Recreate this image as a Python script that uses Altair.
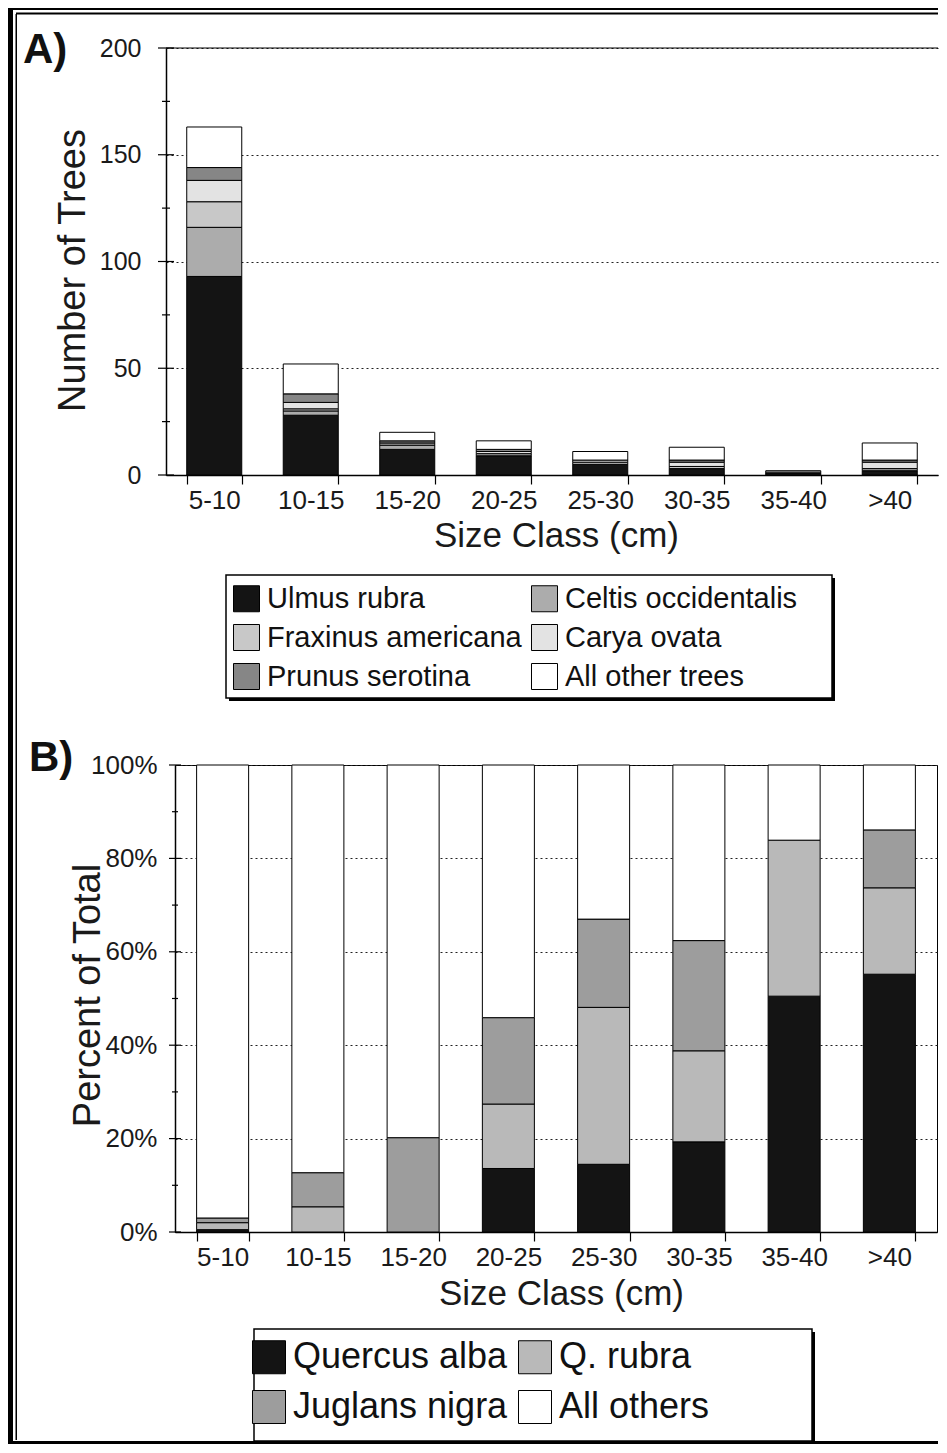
import altair as alt
import pandas as pd

FONT = "Liberation Sans"

# ---------------- data ----------------
size_classes = ["5-10", "10-15", "15-20", "20-25", "25-30", "30-35", "35-40", ">40"]

species_a = ["Ulmus rubra", "Celtis occidentalis", "Fraxinus americana",
             "Carya ovata", "Prunus serotina", "All other trees"]
ulmus = [93, 28, 12, 9, 5, 3, 1, 2]
celtis = [23, 2, 2, 1, 0, 0, 0, 1]
fraxinus = [12, 1, 1, 0, 1, 1, 0, 0]
carya = [10, 3, 0, 1, 1, 2, 0, 3]
prunus = [6, 4, 1, 1, 0, 1, 1, 1]
other_trees = [19, 14, 4, 4, 4, 6, 0, 8]
colors_a = ["#141414", "#acacac", "#c8c8c8", "#e3e3e3", "#868686", "#ffffff"]

species_b = ["Quercus alba", "Q. rubra", "Juglans nigra", "All others"]
quercus = [0.5, 0.0, 0.0, 13.6, 14.5, 19.3, 50.5, 55.2]
rubra = [1.5, 5.4, 0.0, 13.8, 33.6, 19.5, 33.4, 18.5]
juglans = [1.0, 7.3, 20.2, 18.5, 18.9, 23.6, 0.0, 12.4]
all_others = [97.0, 87.3, 79.8, 54.1, 33.0, 37.6, 16.1, 13.9]
colors_b = ["#141414", "#b9b9b9", "#9d9d9d", "#ffffff"]

a_major = [0, 50, 100, 150, 200]
a_minor = [25, 75, 125, 175]
b_major = [0, 20, 40, 60, 80, 100]
b_minor = [10, 30, 50, 70, 90]

series_a = [ulmus, celtis, fraxinus, carya, prunus, other_trees]
series_b = [quercus, rubra, juglans, all_others]

rows_a = []
for i, (sp, vals) in enumerate(zip(species_a, series_a)):
    for sc, v in zip(size_classes, vals):
        if v > 0:
            rows_a.append({"size": sc, "species_a": sp, "count": v, "ord": i})
df_a = pd.DataFrame(rows_a)

rows_b = []
for i, (sp, vals) in enumerate(zip(species_b, series_b)):
    for sc, v in zip(size_classes, vals):
        if v > 0:
            rows_b.append({"size": sc, "species_b": sp, "pct": v, "ord": i})
df_b = pd.DataFrame(rows_b)

one = pd.DataFrame({"k": [0]})

# ---------------- layout ----------------
WA, HA = 772, 427
WB, HB = 762, 467


def rect(x1, x2, y1, y2, fill="black", stroke=None, sw=0):
    kw = dict(fill=fill)
    if stroke:
        kw.update(stroke=stroke, strokeWidth=sw)
    return alt.Chart(one).mark_rect(**kw).encode(
        x=alt.value(x1), x2=alt.value(x2), y=alt.value(y1), y2=alt.value(y2))


def label(txt, x, y):
    return alt.Chart(one).mark_text(
        text=txt, font=FONT, fontSize=42, fontWeight="bold", align="left",
        baseline="alphabetic", color="#111").encode(x=alt.value(x), y=alt.value(y))


def x_axis(tx, ty):
    return alt.Axis(title="Size Class (cm)", labelAngle=0, tickBand="extent", tickSize=9,
                    tickColor="black", tickWidth=1.2, labelPadding=24,
                    labelBaseline="alphabetic", labelFontSize=26, labelColor="#1a1a1a",
                    labelFont=FONT, titleFont=FONT, titleFontSize=35,
                    titleFontWeight="normal", titleColor="#1a1a1a", titleX=tx, titleY=ty,
                    titleBaseline="alphabetic", titleAlign="center", grid=False,
                    domainColor="black", domainWidth=1.5)


def legend(x, y, size, fs, rp, cp):
    return alt.Legend(orient="none", legendX=x, legendY=y, title=None, columns=2,
                      direction="horizontal", symbolType="square", symbolSize=size,
                      symbolStrokeColor="black", symbolStrokeWidth=1, symbolOpacity=1,
                      labelFont=FONT, labelFontSize=fs, labelColor="#111",
                      rowPadding=rp, columnPadding=cp, labelOffset=6, padding=0,
                      labelLimit=500)


# ---------------- panel A ----------------
axis_ya = alt.Axis(values=a_major, ticks=False, labelPadding=25, labelFontSize=25,
                   labelFont=FONT, labelColor="#1a1a1a", title="Number of Trees",
                   titleFont=FONT, titleFontSize=38, titleFontWeight="normal",
                   titleColor="#1a1a1a", titleX=-82, titleY=222,
                   titleBaseline="alphabetic", titleAlign="center",
                   grid=True, gridDash=[2, 3], gridColor="#222", gridWidth=1,
                   domainColor="black", domainWidth=1.5)
scale_ya = alt.Scale(domain=[0, 200], nice=False)

bars_a = alt.Chart(df_a).mark_bar(stroke="black", strokeWidth=1).encode(
    x=alt.X("size:N", sort=size_classes,
            scale=alt.Scale(paddingInner=0.43, paddingOuter=0.215),
            axis=x_axis(390, 71)),
    y=alt.Y("count:Q", stack="zero", scale=scale_ya, axis=axis_ya),
    color=alt.Color("species_a:N", scale=alt.Scale(domain=species_a, range=colors_a),
                    legend=legend(66, 536, 676, 29, 8, 7)),
    order=alt.Order("ord:Q"),
)


def ticks(vals, half, field, scale, axis):
    return alt.Chart(pd.DataFrame({field: vals})).mark_rule(color="black", strokeWidth=1.2).encode(
        y=alt.Y(f"{field}:Q", scale=scale, axis=axis), x=alt.value(-half), x2=alt.value(half))


major_a = ticks(a_major, 8, "count", scale_ya, axis_ya)
minor_a = ticks(a_minor, 4, "count", scale_ya, axis_ya)
top_a = alt.Chart(pd.DataFrame({"count": [200]})).mark_rule(color="black", strokeWidth=1).encode(
    y=alt.Y("count:Q", scale=scale_ya, axis=axis_ya))

frame = [
    rect(-158, -153, -40, 1396),
    rect(-150.5, -149, -34, 1392),
    rect(-158, WA, -40, -38),
    rect(-150, WA, -35.5, -33.5),
    rect(-158, WA, 1393, 1396),
]

legbox_a = [rect(63, 669, 530, 653), rect(60, 666, 527, 650, fill="white", stroke="black", sw=1.5)]

panel_a = alt.layer(*frame, *legbox_a, bars_a, major_a, minor_a, top_a,
                    label("A)", -143, 15)).properties(width=WA, height=HA)

# ---------------- panel B ----------------
axis_yb = alt.Axis(values=b_major, ticks=False, labelPadding=18, labelFontSize=26,
                   labelExpr="datum.value + '%'",
                   labelFont=FONT, labelColor="#1a1a1a", title="Percent of Total",
                   titleFont=FONT, titleFontSize=38, titleFontWeight="normal",
                   titleColor="#1a1a1a", titleX=-76, titleY=230,
                   titleBaseline="alphabetic", titleAlign="center",
                   grid=True, gridDash=[2, 3], gridColor="#222", gridWidth=1,
                   domainColor="black", domainWidth=1.5)
scale_yb = alt.Scale(domain=[0, 100], nice=False)

bars_b = alt.Chart(df_b).mark_bar(stroke="black", strokeWidth=1).encode(
    x=alt.X("size:N", sort=size_classes,
            scale=alt.Scale(paddingInner=0.454, paddingOuter=0.227),
            axis=x_axis(386, 72)),
    y=alt.Y("pct:Q", stack="zero", scale=scale_yb, axis=axis_yb),
    color=alt.Color("species_b:N", scale=alt.Scale(domain=species_b, range=colors_b),
                    legend=legend(85, 574, 1089, 36, 12, 8)),
    order=alt.Order("ord:Q"),
)

major_b = ticks(b_major, 6, "pct", scale_yb, axis_yb)
minor_b = ticks(b_minor, 3, "pct", scale_yb, axis_yb)

legbox_b = [rect(82, 640, 567, 679), rect(79, 637, 564, 676, fill="white", stroke="black", sw=1.5)]

panel_b = alt.layer(*legbox_b, bars_b, major_b, minor_b, label("B)", -146, 6)).properties(
    width=WB, height=HB, view=alt.ViewBackground(stroke="black", strokeWidth=1))

spacer = alt.Chart(one).mark_point(opacity=0).properties(width=1, height=HB)

row_b = alt.hconcat(spacer, panel_b, spacing=8, bounds="flush")

chart = alt.vconcat(panel_a, row_b, spacing=290, bounds="flush").resolve_scale(
    color="independent", x="independent", y="independent"
).properties(padding=0, background="white").configure(font=FONT).configure_view(stroke=None)

chart.save("out.html", embed_options={"renderer": "svg", "actions": False})
